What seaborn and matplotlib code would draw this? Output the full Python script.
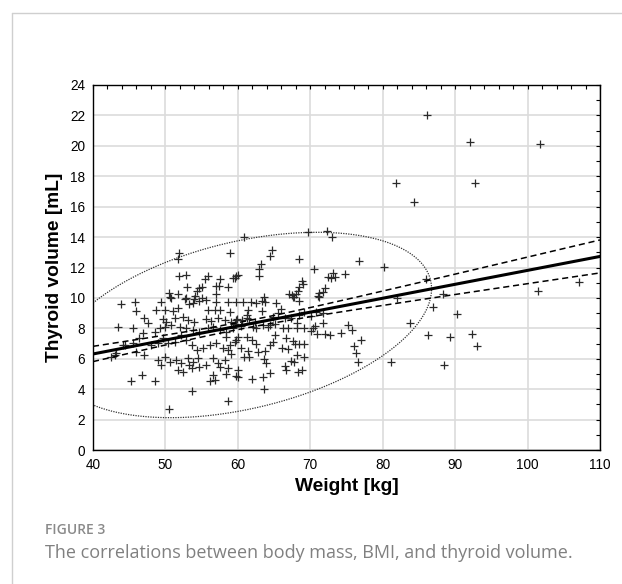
import numpy as np
import pandas as pd
import seaborn as sns
import matplotlib.pyplot as plt
from matplotlib.ticker import MultipleLocator
from matplotlib.lines import Line2D

# ---------------- data ----------------
weight = [
    45.75, 43.9, 43.45, 45.5, 46.0, 47.1, 47.6, 46.7, 45.3, 48.5, 50.5, 53.6, 58.6,
    49.4, 50.8, 52.65, 54.0, 54.7, 55.6, 57.0, 58.6, 53.8,
    48.7, 49.9, 51.0, 51.7, 53.3, 55.9, 56.8, 57.5, 58.9,
    49.7, 50.1, 51.3, 52.4, 53.1, 54.0, 55.6, 56.3, 57.3, 58.2, 59.1, 59.8,
    46.9, 46.4, 48.5, 49.2, 49.9, 50.8, 52.0, 52.9, 53.8, 54.7, 55.9, 56.6, 57.5, 58.4, 59.3,
    45.5, 44.4, 43.2, 42.5, 46.0, 47.1, 48.05, 49.0, 49.7, 50.35, 51.3, 52.1, 52.9, 53.6,
    54.3, 55.2, 56.1, 57.0, 57.9, 58.9, 59.6, 58.4,
    49.0, 49.4, 49.9, 50.6, 51.5, 51.7, 52.4, 52.2, 53.1, 53.3, 53.8, 53.6, 54.5, 54.7,
    55.6, 56.6, 57.3, 57.5, 56.6, 56.1, 56.8, 58.4, 58.6, 59.8, 58.2, 59.1, 58.6,
    43.0, 44.2,
    # upper left part of the cloud
    51.87, 51.73, 58.87, 51.87, 52.89, 55.88, 55.42, 57.49, 59.8, 59.3, 52.98, 54.7,
    54.36, 55.0, 57.0, 57.4, 58.6, 50.5, 51.7, 57.0, 50.7, 52.9, 54.1, 55.0,
    # upper right part of the cloud
    60.8, 69.7, 72.35, 73.0, 64.7, 64.5, 63.24, 62.9, 62.9, 60.0, 59.56, 68.5, 76.7,
    70.5, 73.1, 72.45, 72.9, 73.4, 74.75, 68.9, 69.0, 68.5, 68.3, 72.0, 71.7, 71.2,
    71.1, 67.06, 67.5, 67.8, 68.0, 63.6,
    # lower right part of the cloud
    59.8, 60.7, 61.86, 62.55, 63.4, 63.7, 65.3, 66.0, 61.4, 63.4, 61.3, 65.5, 64.85,
    66.5, 67.4, 68.5, 69.2, 70.8, 71.7, 70.1, 59.9, 60.6, 61.2, 61.6, 62.3, 59.56,
    60.5, 62.1, 62.55, 63.5, 64.2, 64.5, 65.1, 66.2, 66.9, 68.1, 68.1, 69.1, 70.4,
    70.6, 70.1, 71.75, 70.9, 72.0, 72.7, 74.3, 75.2, 75.7, 77.05, 76.1, 76.3, 76.6,
    60.0, 59.8, 61.2, 61.9, 62.5, 60.5, 61.4, 60.8, 61.6, 62.8, 63.7, 64.4, 64.85,
    65.1, 66.1, 66.9, 67.85, 68.5, 69.2, 66.7, 67.6, 68.1, 69.2, 67.4, 67.8, 63.6,
    63.9, 64.4, 63.5, 66.5, 66.7, 68.3, 68.8, 60.0, 60.0, 61.9, 63.6, 67.6, 71.2, 68.4,
    # heavy subjects
    86.06, 92.05, 101.7, 81.78, 92.74, 84.36, 80.17, 85.97, 88.27, 86.98, 82.0,
    90.2, 83.76, 86.3, 89.3, 92.3, 92.97, 101.5, 107.1, 81.14, 88.5,
]
volume = [
    9.71, 9.58, 8.11, 8.04, 9.14, 8.7, 8.33, 4.93, 4.54, 4.54, 2.67, 3.9, 3.22,
    9.71, 9.97, 9.93, 9.93, 9.8, 9.86, 9.75, 9.71, 9.64,
    9.2, 9.2, 9.14, 9.36, 9.58, 9.2, 9.2, 9.2, 9.1,
    8.61, 8.44, 8.66, 8.77, 8.55, 8.44, 8.61, 8.48, 8.66, 8.55, 8.44, 8.55,
    7.67, 7.34, 7.78, 8.0, 8.11, 8.22, 8.11, 8.0, 7.89, 7.78, 8.0, 8.11, 7.89, 7.74, 8.0,
    7.01, 6.9, 6.35, 6.1, 6.46, 6.25, 6.9, 7.01, 7.34, 7.01, 7.12, 7.56, 7.23, 6.9,
    6.57, 6.68, 6.9, 7.01, 6.68, 6.9, 7.12, 7.45,
    5.92, 5.59, 6.14, 5.81, 5.92, 5.26, 5.15, 5.7, 6.03, 5.59, 5.81, 5.37, 6.03, 5.48,
    5.59, 6.03, 5.7, 5.48, 4.93, 4.54, 4.6, 4.97, 5.37, 4.89, 5.92, 6.29, 6.57,
    6.25, 6.9,
    12.98, 12.54, 12.93, 11.44, 11.49, 11.44, 11.22, 11.27, 11.44, 11.29, 10.74, 10.63,
    10.48, 10.7, 10.79, 10.79, 10.74, 10.35, 10.26, 10.26, 10.04, 9.97, 10.1, 9.97,
    14.03, 14.36, 14.42, 13.99, 13.15, 12.78, 12.21, 11.88, 11.44, 11.51, 11.29, 12.54, 12.45,
    11.88, 11.62, 11.4, 11.29, 11.4, 11.55, 11.14, 10.92, 10.7, 10.48, 10.63, 10.41, 10.3,
    10.13, 10.26, 10.19, 10.08, 10.26, 10.04,
    9.75, 9.71, 9.71, 9.64, 9.8, 9.71, 9.64, 9.27, 9.2, 9.14, 8.87, 8.98, 8.77,
    8.66, 8.7, 8.87, 9.1, 9.05, 8.98, 8.83, 8.61, 8.55, 8.7, 8.61, 8.39, 8.26,
    8.17, 8.11, 8.04, 8.22, 8.11, 8.22, 8.26, 8.0, 8.0, 8.33, 8.0, 8.0, 8.04,
    8.17, 7.82, 8.33, 7.6, 7.6, 7.56, 7.67, 8.22, 7.89, 7.23, 6.86, 6.35, 5.76,
    7.45, 7.23, 7.45, 7.23, 6.95, 6.68, 6.51, 6.14, 6.14, 6.46, 6.51, 6.9, 7.12,
    7.56, 6.73, 6.64, 6.95, 6.95, 6.95, 7.34, 7.17, 6.25, 6.14, 5.85, 5.8, 5.98,
    5.7, 5.04, 4.82, 5.54, 5.26, 5.1, 5.26, 5.26, 4.82, 4.67, 4.01, 10.08, 10.08, 9.8,
    22.0, 20.27, 20.12, 17.53, 17.53, 16.28, 12.01, 11.24, 10.23, 9.42, 10.0,
    8.94, 8.37, 7.56, 7.41, 7.6, 6.84, 10.45, 11.02, 5.81, 5.59,
]

# summary statistics of the sample (bands and ellipse)
n_obs = 393
mean_weight = 60.8
mean_volume = 8.22
sd_weight = 10.6
sd_volume = 2.49
corr_r = 0.39
t_crit = 1.97
chi2_95 = 5.991

x_ticks = [40, 50, 60, 70, 80, 90, 100, 110]
y_ticks = [0, 2, 4, 6, 8, 10, 12, 14, 16, 18, 20, 22, 24]

# ---------------- derived fit ----------------
slope = corr_r * sd_volume / sd_weight
xs = np.linspace(x_ticks[0], x_ticks[-1], 300)
fit = mean_volume + slope * (xs - mean_weight)
s_e = sd_volume * np.sqrt(1 - corr_r ** 2)
hw = t_crit * s_e * np.sqrt(1 / n_obs + (xs - mean_weight) ** 2 / ((n_obs - 1) * sd_weight ** 2))
fit_df = pd.DataFrame({"x": xs, "fit": fit, "lo": fit - hw, "hi": fit + hw})

tt = np.linspace(0, 2 * np.pi, 500)
k = np.sqrt(chi2_95)
ell_df = pd.DataFrame({
    "x": mean_weight + k * sd_weight * np.cos(tt),
    "y": mean_volume + k * sd_volume * (corr_r * np.cos(tt) + np.sqrt(1 - corr_r ** 2) * np.sin(tt)),
})
pts = pd.DataFrame({"weight": weight, "volume": volume})

# ---------------- figure ----------------
sns.set_theme(style="white")
plt.rcParams["font.family"] = ["Liberation Sans", "DejaVu Sans"]

W, H = 622, 584
fig = plt.figure(figsize=(W / 100, H / 100), dpi=100)
fig.patch.set_facecolor("white")
ax = fig.add_axes([93 / W, 1 - 450 / H, 507 / W, 365 / H])

ax.grid(True, which="major", color="#dcdcdc", linewidth=1.2)
ax.set_axisbelow(True)

sns.lineplot(data=ell_df, x="x", y="y", sort=False, estimator=None, ax=ax,
             color="#333333", linewidth=0.9, linestyle=(0, (1, 1)))
sns.scatterplot(data=pts, x="weight", y="volume", marker="+", s=38, color="#2a2a2a",
                linewidth=0.9, ax=ax, zorder=3)
sns.lineplot(data=fit_df, x="x", y="fit", ax=ax, color="black", linewidth=2.2, zorder=4)
sns.lineplot(data=fit_df, x="x", y="lo", ax=ax, color="black", linewidth=1.1,
             linestyle=(0, (4, 2.5)), zorder=4)
sns.lineplot(data=fit_df, x="x", y="hi", ax=ax, color="black", linewidth=1.1,
             linestyle=(0, (4, 2.5)), zorder=4)

ax.set_xlim(x_ticks[0], x_ticks[-1])
ax.set_ylim(y_ticks[0], y_ticks[-1])
ax.set_xticks(x_ticks)
ax.set_yticks(y_ticks)
ax.xaxis.set_minor_locator(MultipleLocator(2))
ax.yaxis.set_minor_locator(MultipleLocator(1))
ax.tick_params(which="both", direction="in", top=True, right=True, length=3,
               width=0.8, color="black")
ax.tick_params(axis="both", which="major", labelsize=9.8, labelcolor="black")
ax.tick_params(axis="y", which="major", pad=5.5)
ax.tick_params(axis="x", which="major", pad=6)
for sp in ax.spines.values():
    sp.set_color("black")
    sp.set_linewidth(1.0)

ax.set_xlabel("Weight [kg]", fontsize=13.8, fontweight="bold", color="black", labelpad=4)
ax.set_ylabel("Thyroid volume [mL]", fontsize=13.8, fontweight="bold", color="black", labelpad=5)

# frame of the figure panel
fig.add_artist(Line2D([12 / W, 12 / W], [0, 1 - 13 / H], transform=fig.transFigure,
                      color="#cfcfcf", linewidth=1))
fig.add_artist(Line2D([12 / W, 1], [1 - 13 / H, 1 - 13 / H], transform=fig.transFigure,
                      color="#cfcfcf", linewidth=1))

fig.text(45 / W, 1 - 530 / H, "FIGURE 3", family=["Open Sans", "DejaVu Sans"],
         fontweight="semibold", fontsize=10, color="#8a8a8a", va="center", ha="left")
fig.text(45 / W, 1 - 553 / H, "The correlations between body mass, BMI, and thyroid volume.",
         family=["Open Sans", "DejaVu Sans"], fontsize=13, color="#808080",
         va="center", ha="left")

fig.savefig("out.png", dpi=100)
